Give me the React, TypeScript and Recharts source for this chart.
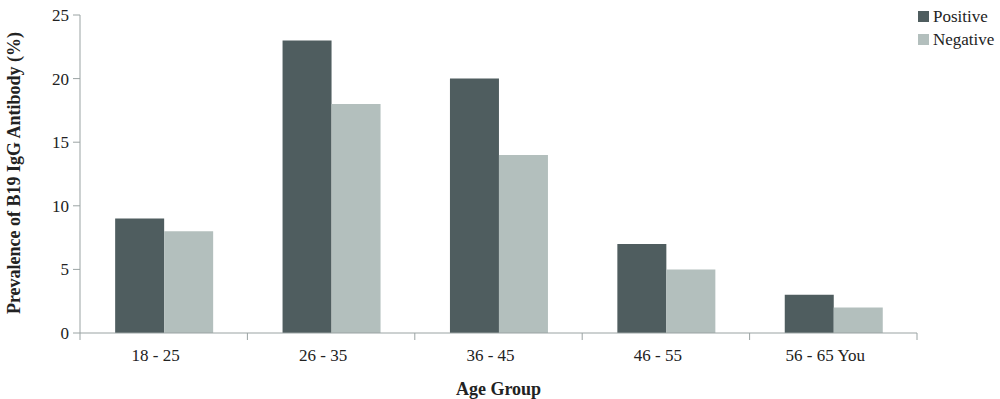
import { BarChart, Bar, XAxis, YAxis, Label } from 'recharts';

const ageGroups = ['18 - 25', '26 - 35', '36 - 45', '46 - 55', '56 - 65 You'];
const positive = [9, 23, 20, 7, 3];
const negative = [8, 18, 14, 5, 2];
const yTicks = [0, 5, 10, 15, 20, 25];
const boundaryTicks = [0, 1, 2, 3, 4, 5];

const DARK = '#4f5d5f';
const LIGHT = '#b3bfbd';
const AXIS = '#9aa3a3';
const FONT = '"Liberation Serif", serif';

const data = ageGroups.map((group, i) => ({
  group,
  positive: positive[i],
  negative: negative[i],
}));

const legendItems = [
  { label: 'Positive', color: DARK },
  { label: 'Negative', color: LIGHT },
];

// legend sits outside the plot so it does not shrink it
const LegendBox = () => (
  <div
    style={{
      position: 'absolute',
      left: 918,
      top: 5,
      fontFamily: FONT,
      fontSize: 17,
      color: '#222',
      lineHeight: '23px',
    }}
  >
    {legendItems.map((item) => (
      <div key={item.label} style={{ display: 'flex', alignItems: 'center' }}>
        <span
          style={{ width: 11, height: 11, background: item.color, marginRight: 4, display: 'inline-block' }}
        />
        <span>{item.label}</span>
      </div>
    ))}
  </div>
);

export default function App() {
  return (
    <div style={{ position: 'absolute', left: 0, top: 0, width: 1000, height: 399, background: '#fff' }}>
      <BarChart
        width={1000}
        height={399}
        data={data}
        margin={{ top: 15, right: 83, left: 8, bottom: 0 }}
        barGap={0}
        barCategoryGap="21%"
      >
        {/* baseline with ticks at category boundaries, Excel style */}
        <XAxis
          xAxisId="base"
          type="number"
          dataKey="edge"
          domain={[0, 5]}
          allowDataOverflow
          ticks={boundaryTicks}
          height={1}
          stroke={AXIS}
          tickSize={7}
          tickFormatter={() => ''}
          interval={0}
        />
        <XAxis
          xAxisId="cat"
          dataKey="group"
          axisLine={false}
          tickLine={false}
          height={65}
          tick={{ fontFamily: FONT, fontSize: 17, fill: '#222', dx: -8 }}
          tickMargin={9}
        >
          <Label
            value="Age Group"
            position="insideBottom"
            offset={4}
            style={{ fontFamily: FONT, fontSize: 18, fontWeight: 'bold', fill: '#222' }}
          />
        </XAxis>
        <YAxis
          width={72}
          domain={[0, 25]}
          ticks={yTicks}
          stroke={AXIS}
          tickSize={7}
          tickMargin={4}
          tick={{ fontFamily: FONT, fontSize: 17, fill: '#222' }}
        >
          <Label
            content={() => (
              <text
                x={20}
                y={173}
                transform="rotate(-90 20 173)"
                textAnchor="middle"
                style={{ fontFamily: FONT, fontSize: 18, fontWeight: 'bold', fill: '#222' }}
              >
                Prevalence of B19 IgG Antibody (%)
              </text>
            )}
          />
        </YAxis>
        <Bar xAxisId="cat" dataKey="positive" name="Positive" fill={DARK} isAnimationActive={false} />
        <Bar xAxisId="cat" dataKey="negative" name="Negative" fill={LIGHT} isAnimationActive={false} />
      </BarChart>
      <LegendBox />
    </div>
  );
}
